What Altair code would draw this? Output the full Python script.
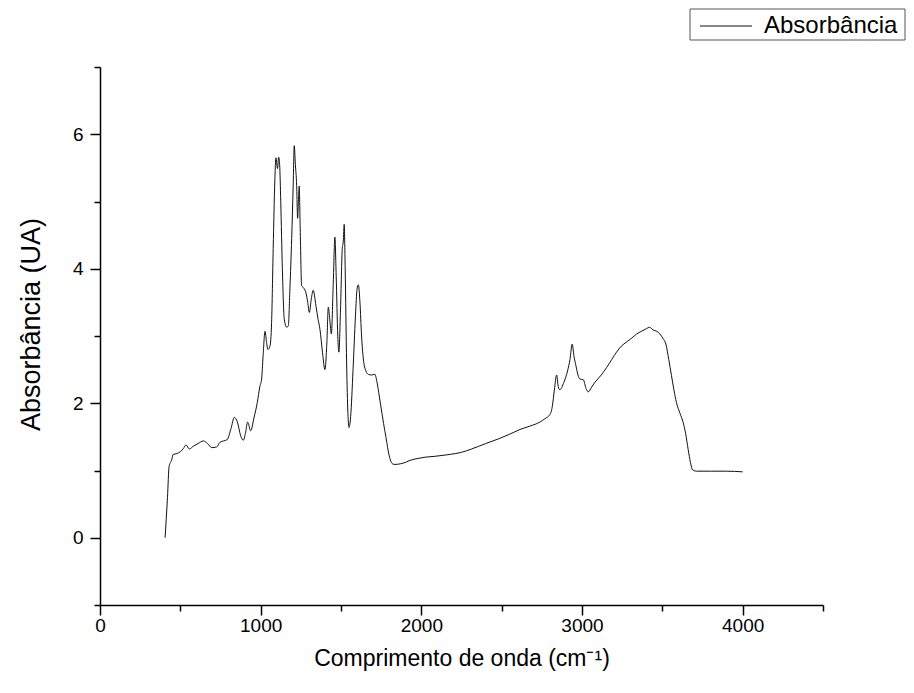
import altair as alt
import pandas as pd

wavenumber = [405, 420, 430, 445, 456, 477, 500, 520, 535, 556, 580, 610, 643, 670, 695, 726, 747, 770, 792, 815,
              836, 855, 875, 892, 905, 919, 938, 958, 979, 995, 1006, 1015, 1027, 1037, 1045, 1058, 1068, 1078,
              1088, 1095, 1105, 1112, 1118, 1125, 1135, 1147, 1162, 1172, 1182, 1193, 1202, 1209, 1216, 1224,
              1230, 1235, 1240, 1246, 1255, 1269, 1282, 1293, 1303, 1315, 1327, 1344, 1357, 1369, 1385, 1400,
              1412, 1421, 1430, 1440, 1452, 1462, 1470, 1480, 1487, 1497, 1508, 1514, 1520, 1526, 1535, 1543,
              1550, 1560, 1575, 1590, 1600, 1608, 1618, 1628, 1639, 1655, 1670, 1690, 1711, 1725, 1745, 1765,
              1780, 1800, 1820, 1836, 1870, 1900, 1929, 1980, 2030, 2080, 2116, 2180, 2250, 2313, 2400, 2480,
              2550, 2614, 2676, 2738, 2769, 2800, 2815, 2828, 2842, 2852, 2862, 2887, 2910, 2925, 2939, 2950,
              2962, 2975, 2987, 3008, 3025, 3039, 3060, 3080, 3120, 3153, 3185, 3215, 3245, 3277, 3310, 3340,
              3370, 3402, 3420, 3443, 3465, 3485, 3505, 3522, 3540, 3557, 3572, 3588, 3610, 3630, 3645, 3661,
              3675, 3688, 3713, 3800, 3900, 4000]
absorbance = [0.0, 0.6, 1.06, 1.15, 1.24, 1.25, 1.28, 1.33, 1.38, 1.32, 1.36, 1.40, 1.44, 1.40, 1.34, 1.35, 1.42,
              1.44, 1.46, 1.62, 1.79, 1.72, 1.52, 1.45, 1.55, 1.72, 1.59, 1.78, 2.01, 2.25, 2.36, 2.70, 3.07,
              2.90, 2.80, 2.85, 3.20, 4.30, 5.30, 5.65, 5.49, 5.66, 5.55, 5.00, 4.00, 3.25, 3.13, 3.15, 3.70,
              4.45, 5.20, 5.83, 5.55, 5.24, 4.75, 5.00, 5.23, 4.60, 3.75, 3.71, 3.64, 3.50, 3.35, 3.55, 3.68,
              3.45, 3.25, 3.10, 2.75, 2.50, 2.90, 3.43, 3.25, 3.03, 3.80, 4.47, 3.90, 3.00, 2.76, 3.40, 4.30,
              4.40, 4.66, 4.00, 2.60, 1.85, 1.64, 1.80, 2.50, 3.30, 3.70, 3.76, 3.50, 3.00, 2.66, 2.48, 2.43,
              2.42, 2.43, 2.30, 2.00, 1.70, 1.49, 1.22, 1.10, 1.09, 1.10, 1.12, 1.15, 1.18, 1.20, 1.21, 1.22,
              1.24, 1.27, 1.32, 1.40, 1.47, 1.54, 1.61, 1.66, 1.72, 1.77, 1.83, 1.95, 2.20, 2.42, 2.25, 2.20,
              2.31, 2.48, 2.65, 2.88, 2.70, 2.56, 2.42, 2.36, 2.35, 2.22, 2.17, 2.24, 2.31, 2.42, 2.53, 2.65,
              2.76, 2.85, 2.91, 2.97, 3.03, 3.07, 3.11, 3.13, 3.09, 3.07, 3.03, 2.96, 2.88, 2.65, 2.41, 2.20,
              2.01, 1.85, 1.71, 1.55, 1.31, 1.12, 1.01, 0.99, 0.99, 0.99, 0.98]

series_name = "Absorbância"
x_major = [0, 1000, 2000, 3000, 4000]
x_minor = [500, 1500, 2500, 3500, 4500]
y_major = [0, 2, 4, 6]
y_minor = [-1, 1, 3, 5, 7]

df = pd.DataFrame({"x": wavenumber, "y": absorbance, "serie": series_name})
legend_df = pd.DataFrame({"serie": [series_name]})

FONT = "Liberation Sans"
xscale = alt.Scale(domain=[0, 4500], nice=False)
yscale = alt.Scale(domain=[-1, 7], nice=False, zero=False)

line = alt.Chart(df).mark_line(strokeWidth=1, color="#111111", interpolate="monotone").encode(
    x=alt.X("x:Q", scale=xscale,
            axis=alt.Axis(orient="bottom", values=x_major, title="Comprimento de onda (cm⁻¹)",
                          tickSize=10, format="d", labelPadding=1, labelFlush=False,
                          titlePadding=12, titleFontSize=23)),
    y=alt.Y("y:Q", scale=yscale,
            axis=alt.Axis(orient="left", values=y_major, title="Absorbância (UA)",
                          tickSize=10, labelPadding=7, labelFlush=False,
                          titlePadding=27, titleFontSize=27, titleY=257)),
)

minor = alt.Chart(df).mark_line(opacity=0).encode(
    x=alt.X("x:Q", scale=xscale,
            axis=alt.Axis(orient="bottom", values=x_minor, tickSize=6, labels=False, domain=False, title=None)),
    y=alt.Y("y:Q", scale=yscale,
            axis=alt.Axis(orient="left", values=y_minor, tickSize=6, labels=False, domain=False, title=None)),
)

legend_box = alt.Chart(legend_df).mark_rect(fill="white", stroke="#555555", strokeWidth=1).encode(
    x=alt.value(590), x2=alt.value(805), y=alt.value(-58), y2=alt.value(-27)
)
legend_line = alt.Chart(legend_df).mark_rule(color="#111111", strokeWidth=1).encode(
    x=alt.value(600), x2=alt.value(652), y=alt.value(-41)
)
legend_text = alt.Chart(legend_df).mark_text(
    align="left", baseline="middle", font=FONT, fontSize=24, color="#000"
).encode(x=alt.value(664), y=alt.value(-41), text="serie:N")

chart = alt.layer(line, minor, legend_box, legend_line, legend_text).resolve_axis(
    x="independent", y="independent"
).properties(
    width=723, height=538,
    padding={"left": 92, "top": 59, "right": 83, "bottom": 80},
    autosize=alt.AutoSizeParams(type="none"),
).configure_view(stroke=None).configure_axis(
    grid=False, domainColor="#000", domainWidth=1.5, tickColor="#000", tickWidth=1.5,
    labelFont=FONT, labelFontSize=19, labelColor="#000",
    titleFont=FONT, titleFontWeight="normal", titleColor="#000",
)

chart.save("out.html", embed_options={"renderer": "svg", "actions": False})
